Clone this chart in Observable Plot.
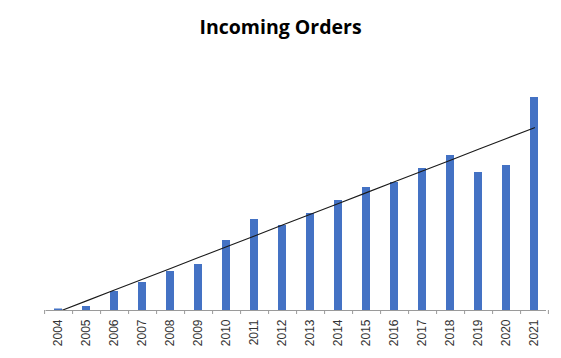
<!DOCTYPE html>
<html>
<head>
<meta charset="utf-8">
<script src="https://cdn.jsdelivr.net/npm/d3@7"></script>
<script src="https://cdn.jsdelivr.net/npm/@observablehq/plot@0.6"></script>
<style>
  html, body { margin: 0; padding: 0; background: #fff; }
  #title { width: 561px; height: 54px; line-height: 54px; text-align: center;
    font-family: "Open Sans", sans-serif; font-weight: bold; font-size: 19.5px; color: #000; }
  #chart svg { display: block; }
</style>
</head>
<body>
<div id="title">Incoming Orders</div>
<div id="chart"></div>
<script>
const years = ["2004","2005","2006","2007","2008","2009","2010","2011","2012","2013","2014","2015","2016","2017","2018","2019","2020","2021"];
const orders = [1.5, 4, 19, 28, 39, 46, 70, 91, 85, 97, 110, 123, 128, 142, 155, 138, 145, 213];

const data = years.map((y, i) => ({year: y, value: orders[i], i}));

// linear trendline (least squares over index)
const n = data.length;
const mx = d3.mean(data, d => d.i), my = d3.mean(data, d => d.value);
const slope = d3.sum(data, d => (d.i - mx) * (d.value - my)) / d3.sum(data, d => (d.i - mx) ** 2);
const intercept = my - slope * mx;
const trend = data.map(d => ({year: d.year, value: intercept + slope * d.i}));

const width = 561, height = 304, marginLeft = 45.5, marginRight = 15;
const step = (width - marginLeft - marginRight) / n;
const boundaries = years.map(y => ({year: y, dx: -step / 2})).concat([{year: years[n - 1], dx: step / 2}]);

const chart = Plot.plot({
  width, height,
  marginLeft, marginRight, marginTop: 16, marginBottom: 48,
  style: {fontFamily: "'Liberation Sans', Arial, sans-serif", background: "#fff"},
  x: {domain: years, padding: 0.71, align: 0.5, paddingOuter: 0, label: null},
  y: {domain: [0, 240], axis: null},
  marks: [
    Plot.barY(data, {x: "year", y: "value", fill: "#4472C4", inset: 0}),
    Plot.line(trend, {x: "year", y: "value", stroke: "#1a1a1a", strokeWidth: 1.1, clip: true}),
    Plot.ruleY([0], {stroke: "#9a9a9a", strokeWidth: 1}),
    ...boundaries.map(b => Plot.ruleX([b], {x: "year", dx: b.dx, y1: 0, y2: -4, stroke: "#9a9a9a"})),
    Plot.axisX({tickSize: 0, tickRotate: -90, tickPadding: 9, fontSize: 12, fill: "#333", label: null})
  ]
});
document.getElementById("chart").appendChild(chart);
</script>
</body>
</html>
